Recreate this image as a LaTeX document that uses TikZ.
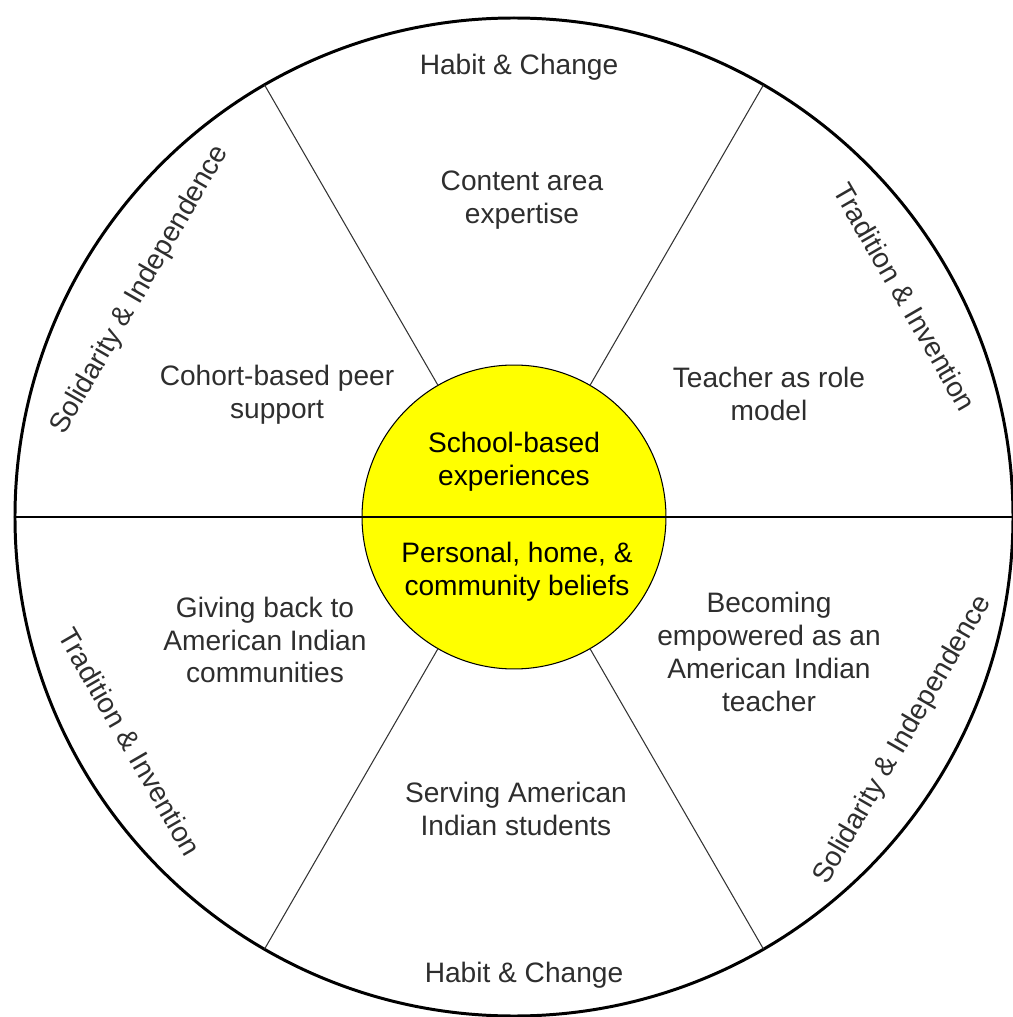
\documentclass[tikz,border=0pt]{standalone}
\usepackage{fontspec}
\setmainfont{Liberation Sans}
\usetikzlibrary{positioning}
\definecolor{hubyellow}{HTML}{FFFF00}
\definecolor{inkgray}{HTML}{2E2E2E}

\begin{document}
\begin{tikzpicture}[x=0.02cm, y=0.02cm,
    lbl/.style={align=center, text=inkgray, inner sep=0pt,
      font=\fontsize{16}{18.7}\selectfont},
    hublbl/.style={lbl, text=black},
    rim/.style={line width=1.7pt},
    spoke/.style={line width=0.6pt, draw=black!80}]
  \useasboundingbox (-514,-500) rectangle (499,517);

  %%% wheel
  \draw[rim] (0,0) circle (499);

  \node[circle, fill=hubyellow, draw=black, line width=0.6pt,
        minimum size=6.08cm, inner sep=0pt, outer sep=0pt] (hub) at (0,0) {};

  \foreach \a in {60,120,240,300}
    \draw[spoke] (hub.\a) -- (\a:499);

  \draw[rim] (180:499) -- (0:499);

  %%% hub texts
  \node[hublbl] (school) at (0,55) {School-based\\experiences};
  \node[hublbl] (personal) at (3,-55) {Personal, home, \&\\community beliefs};

  %%% sector texts
  \node[lbl] (habittop) at (5,450) {Habit \& Change};
  \node[lbl] (content) at (8,317) {Content area\\expertise};
  \node[lbl] (cohort) at (-237,122) {Cohort-based peer\\support};
  \node[lbl] (rolemodel) at (255,123) {Teacher as role\\model};
  \node[lbl] (givingback) at (-249,-123) {Giving back to\\American Indian\\communities};
  \node[lbl] (empowered) at (255,-135) {Becoming\\empowered as an\\American Indian\\teacher};
  \node[lbl] (serving) at (2,-292) {Serving American\\Indian students};
  \node[lbl] (habitbot) at (10,-458) {Habit \& Change};

  %%% rim texts
  \node[lbl, rotate=60] (solidleft) at (-374,227) {Solidarity \& Independence};
  \node[lbl, rotate=-60] (tradright) at (391,220) {Tradition \& Invention};
  \node[lbl, rotate=-60] (tradleft) at (-384,-225) {Tradition \& Invention};
  \node[lbl, rotate=60] (solidright) at (389,-223) {Solidarity \& Independence};
\end{tikzpicture}
\end{document}
